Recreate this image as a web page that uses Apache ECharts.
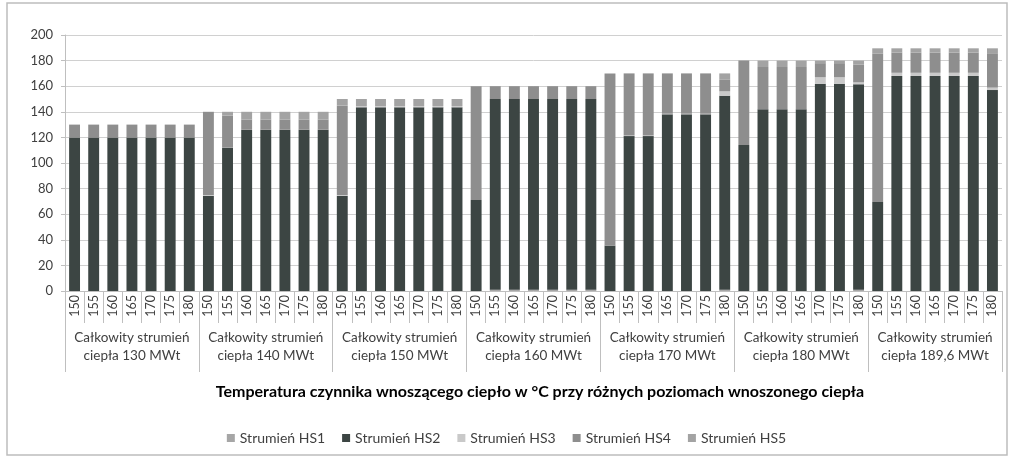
<!DOCTYPE html>
<html>
<head>
<meta charset="utf-8">
<script src="https://cdn.jsdelivr.net/npm/echarts@6/dist/echarts.min.js"></script>
<style>
  html, body { margin: 0; padding: 0; background: #fff; }
  #chart { width: 1013px; height: 460px; }
</style>
</head>
<body>
<div id="chart"></div>
<script>
var temps = ['150', '155', '160', '165', '170', '175', '180'];
var groups = [
  'Całkowity strumień\nciepła 130 MWt',
  'Całkowity strumień\nciepła 140 MWt',
  'Całkowity strumień\nciepła 150 MWt',
  'Całkowity strumień\nciepła 160 MWt',
  'Całkowity strumień\nciepła 170 MWt',
  'Całkowity strumień\nciepła 180 MWt',
  'Całkowity strumień\nciepła 189,6 MWt'
];
var yTicks = [0, 20, 40, 60, 80, 100, 120, 140, 160, 180, 200];
var seriesNames = ['Strumień HS1', 'Strumień HS2', 'Strumień HS3', 'Strumień HS4', 'Strumień HS5'];

// one row of 7 values per heat level (temperatures 150..180)
var hs1 = [
  0, 0, 0, 0, 0, 0, 0,
  0, 0, 0, 0, 0, 0, 0,
  0, 0, 0, 0, 0, 0, 0,
  0, 1, 1, 1, 1, 1, 1,
  0, 0, 0, 0, 0, 0, 1,
  0, 0, 0, 0, 0, 0, 1,
  0, 0, 0, 0, 0, 0, 0
];
var hs2 = [
  120, 120, 120, 120, 120, 120, 120,
  74.5, 112, 126, 126, 126, 126, 126,
  74.5, 143.5, 143.5, 143.5, 143.5, 143.5, 143.5,
  71, 149, 149, 149, 149, 149, 149,
  35.5, 121, 121, 138, 138, 138, 151.5,
  114, 142, 142, 142, 162, 162, 160.5,
  69.5, 168, 168, 168, 168, 168, 157
];
var hs3 = [
  0, 0, 0, 0, 0, 0, 0,
  0.5, 0, 0, 0, 0, 0, 0,
  0.5, 1, 1, 1, 1, 1, 1,
  0, 0, 0, 0, 0, 0, 0,
  0, 0.5, 0.5, 0.5, 0.5, 0.5, 3.5,
  0, 0, 0, 0, 5, 5, 1.5,
  0, 2.5, 2.5, 2.5, 2.5, 2.5, 1.9
];
var hs4 = [
  10, 10, 10, 10, 10, 10, 10,
  65, 25, 8, 8, 8, 8, 8,
  70, 0, 0, 0, 0, 0, 0,
  89, 10, 10, 10, 10, 10, 10,
  134.5, 48.5, 48.5, 31.5, 31.5, 31.5, 9,
  66, 33, 33, 33, 11, 11, 14,
  116, 15.7, 15.7, 15.7, 15.7, 15.7, 26.3
];
var hs5 = [
  0, 0, 0, 0, 0, 0, 0,
  0, 3, 6, 6, 6, 6, 6,
  5, 5.5, 5.5, 5.5, 5.5, 5.5, 5.5,
  0, 0, 0, 0, 0, 0, 0,
  0, 0, 0, 0, 0, 0, 5,
  0, 5, 5, 5, 2, 2, 3,
  4.1, 3.4, 3.4, 3.4, 3.4, 3.4, 4.4
];

var colors = ['#a6a6a6', '#3c4543', '#c9c9c9', '#8e8e8e', '#a3a3a3'];

var cats = [];
groups.forEach(function () { temps.forEach(function (t) { cats.push(t); }); });

var font = 'Lato, "Open Sans", sans-serif';
var chart = echarts.init(document.getElementById('chart'));

var series = [hs1, hs2, hs3, hs4, hs5].map(function (d, i) {
  return {
    name: seriesNames[i],
    type: 'bar',
    stack: 'hs',
    barWidth: '57%',
    itemStyle: { color: colors[i] },
    data: d
  };
});

chart.setOption({
  animation: false,
  textStyle: { fontFamily: font },
  legend: {
    data: seriesNames,
    top: 426,
    left: 'center',
    itemWidth: 8,
    itemHeight: 8,
    itemGap: 17,
    icon: 'rect',
    textStyle: { fontSize: 14, color: '#404040', fontFamily: font }
  },
  graphic: [{
    type: 'rect',
    shape: { x: 7, y: 3, width: 1000, height: 452 },
    style: { fill: 'none', stroke: '#bdbdbd', lineWidth: 1.5 },
    silent: true
  }, {
    // axis title
    type: 'text',
    x: 540,
    y: 392,
    style: {
      text: 'Temperatura czynnika wnoszącego ciepło w °C przy różnych poziomach wnoszonego ciepła',
      font: 'bold 16px ' + font,
      fill: '#000',
      align: 'center',
      verticalAlign: 'middle'
    },
    silent: true
  }],
  grid: { left: 65, right: 11, top: 35, bottom: 169 },
  xAxis: [{
    type: 'category',
    data: cats,
    boundaryGap: true,
    axisLine: { show: true, lineStyle: { color: '#bfbfbf' } },
    axisTick: { show: true, interval: 0, length: 32, lineStyle: { color: '#bfbfbf', width: 1 } },
    axisLabel: { interval: 0, rotate: 90, margin: 4, fontSize: 12.5, color: '#404040' }
  }, {
    type: 'category',
    data: groups,
    boundaryGap: true,
    position: 'bottom',
    offset: 32,
    axisLine: { show: false },
    axisTick: { show: true, interval: 0, length: 49, lineStyle: { color: '#bfbfbf', width: 1 } },
    axisLabel: { interval: 0, margin: 6, fontSize: 13.5, lineHeight: 18, color: '#404040' }
  }],
  yAxis: {
    type: 'value',
    min: yTicks[0],
    max: yTicks[yTicks.length - 1],
    interval: 20,
    axisLine: { show: true, lineStyle: { color: '#bfbfbf' } },
    axisTick: { show: true, length: 4, lineStyle: { color: '#bfbfbf' } },
    axisLabel: { fontSize: 13, color: '#404040', margin: 12 },
    splitLine: { lineStyle: { color: '#d0d0d0' } }
  },
  series: series
});
</script>
</body>
</html>
